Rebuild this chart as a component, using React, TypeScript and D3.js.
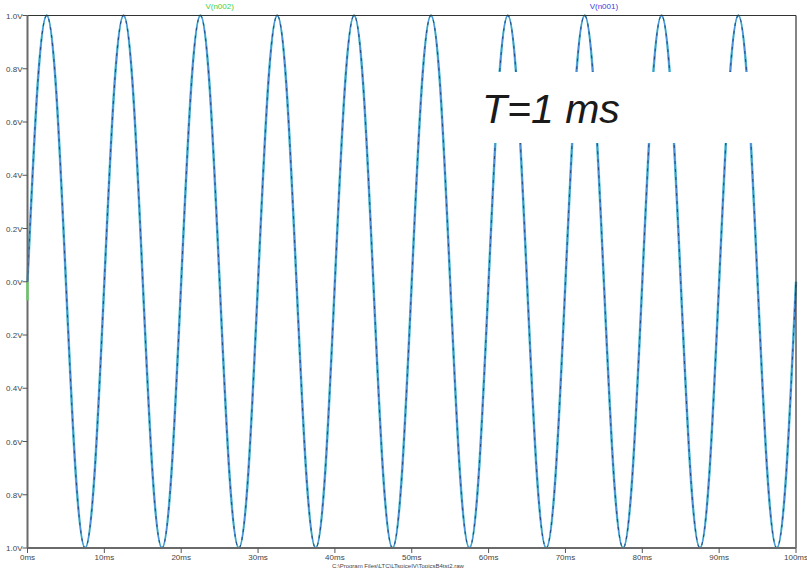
import * as d3 from "d3";

// samples every 1.25 ms (one row per 10 ms cycle)
const timesMs = [
  0, 1.25, 2.5, 3.75, 5, 6.25, 7.5, 8.75,
  10, 11.25, 12.5, 13.75, 15, 16.25, 17.5, 18.75,
  20, 21.25, 22.5, 23.75, 25, 26.25, 27.5, 28.75,
  30, 31.25, 32.5, 33.75, 35, 36.25, 37.5, 38.75,
  40, 41.25, 42.5, 43.75, 45, 46.25, 47.5, 48.75,
  50, 51.25, 52.5, 53.75, 55, 56.25, 57.5, 58.75,
  60, 61.25, 62.5, 63.75, 65, 66.25, 67.5, 68.75,
  70, 71.25, 72.5, 73.75, 75, 76.25, 77.5, 78.75,
  80, 81.25, 82.5, 83.75, 85, 86.25, 87.5, 88.75,
  90, 91.25, 92.5, 93.75, 95, 96.25, 97.5, 98.75,
  100,
];
const volts = [
  0, 0.71, 1, 0.71, 0, -0.71, -1, -0.71,
  0, 0.71, 1, 0.71, 0, -0.71, -1, -0.71,
  0, 0.71, 1, 0.71, 0, -0.71, -1, -0.71,
  0, 0.71, 1, 0.71, 0, -0.71, -1, -0.71,
  0, 0.71, 1, 0.71, 0, -0.71, -1, -0.71,
  0, 0.71, 1, 0.71, 0, -0.71, -1, -0.71,
  0, 0.71, 1, 0.71, 0, -0.71, -1, -0.71,
  0, 0.71, 1, 0.71, 0, -0.71, -1, -0.71,
  0, 0.71, 1, 0.71, 0, -0.71, -1, -0.71,
  0, 0.71, 1, 0.71, 0, -0.71, -1, -0.71,
  0,
];

const xTicks = [0, 10, 20, 30, 40, 50, 60, 70, 80, 90, 100];
const xTickLabels = ["0ms", "10ms", "20ms", "30ms", "40ms", "50ms", "60ms", "70ms", "80ms", "90ms", "100ms"];
const yTicks = [1, 0.8, 0.6, 0.4, 0.2, 0, -0.2, -0.4, -0.6, -0.8, -1];
const yTickLabels = ["1.0V", "0.8V", "0.6V", "0.4V", "0.2V", "0.0V", "0.2V", "0.4V", "0.6V", "0.8V", "1.0V"];

const traces = [
  { name: "V(n002)", color: "#3fcf3f", labelAt: 25 },
  { name: "V(n001)", color: "#3b3bdc", labelAt: 75 },
];

const width = 807;
const height = 568;
const marginLeft = 27.5;
const marginRight = 11;
const marginTop = 15.5;
const marginBottom = 20;

export default function App() {
  const x = d3.scaleLinear().domain([0, 100]).range([marginLeft, width - marginRight]);
  const y = d3.scaleLinear().domain([-1, 1]).range([height - marginBottom, marginTop]);

  const pts = timesMs.map((t, i) => [t, volts[i]] as [number, number]);
  const line = d3
    .line<[number, number]>()
    .x((d) => x(d[0]))
    .y((d) => y(d[1]))
    .curve(d3.curveNatural);
  const path = line(pts) ?? "";

  const font = "'Liberation Sans', Arial, sans-serif";
  const x0 = x(0);
  const x1 = x(100);
  const y0 = y(-1);
  const y1 = y(1);

  return (
    <svg
      width={width}
      height={height}
      style={{ position: "absolute", left: 0, top: 0, background: "#fff" }}
      fontFamily={font}
    >
      {/* traces: green and blue overlap, dark dashes on top */}
      <path d={path} fill="none" stroke="#6fd6d0" strokeWidth={2.6} />
      <path d={path} fill="none" stroke="#4a92dc" strokeWidth={1.8} />
      <path d={path} fill="none" stroke="#24497a" strokeWidth={1} strokeDasharray="3 5" />

      {/* white note box */}
      <rect x={468} y={72} width={322} height={71} fill="#fff" />
      <text x={482} y={123} fontSize={41} fontStyle="italic" fill="#1a1a1a">
        T=1 ms
      </text>

      {/* frame */}
      <line x1={x0} x2={x1} y1={y1} y2={y1} stroke="#333" strokeWidth={1.2} />
      <line x1={x1} x2={x1} y1={y1} y2={y0} stroke="#333" strokeWidth={1.2} />
      <line x1={x0} x2={x0} y1={y1} y2={y0} stroke="#6a6a6a" strokeWidth={2} />
      <line x1={x0} x2={x1} y1={y0} y2={y0} stroke="#6a6a6a" strokeWidth={2} />
      <line x1={x0} x2={x0} y1={y(0)} y2={y(-0.07)} stroke="#4cd84c" strokeWidth={2} />

      {/* y axis */}
      {yTicks.map((v, i) => (
        <g key={i}>
          <line x1={x0 - 5} x2={x0} y1={y(v)} y2={y(v)} stroke="#555" strokeWidth={1} />
          <text x={x0 - 5} y={y(v) + 3} fontSize={8} textAnchor="end" fill="#444">
            {yTickLabels[i]}
          </text>
        </g>
      ))}

      {/* x axis */}
      {xTicks.map((v, i) => (
        <g key={i}>
          <line x1={x(v)} x2={x(v)} y1={y0} y2={y0 + 5} stroke="#555" strokeWidth={1} />
          <text x={x(v)} y={y0 + 12} fontSize={8} textAnchor="middle" fill="#444">
            {xTickLabels[i]}
          </text>
        </g>
      ))}

      {/* trace names */}
      {traces.map((t) => (
        <text key={t.name} x={x(t.labelAt)} y={9} fontSize={8} textAnchor="middle" fill={t.color}>
          {t.name}
        </text>
      ))}

      <text x={332} y={567.5} fontSize={6} fill="#444">
        C:\Program Files\LTC\LTspiceIV\TopicsB4tst2.raw
      </text>
    </svg>
  );
}
